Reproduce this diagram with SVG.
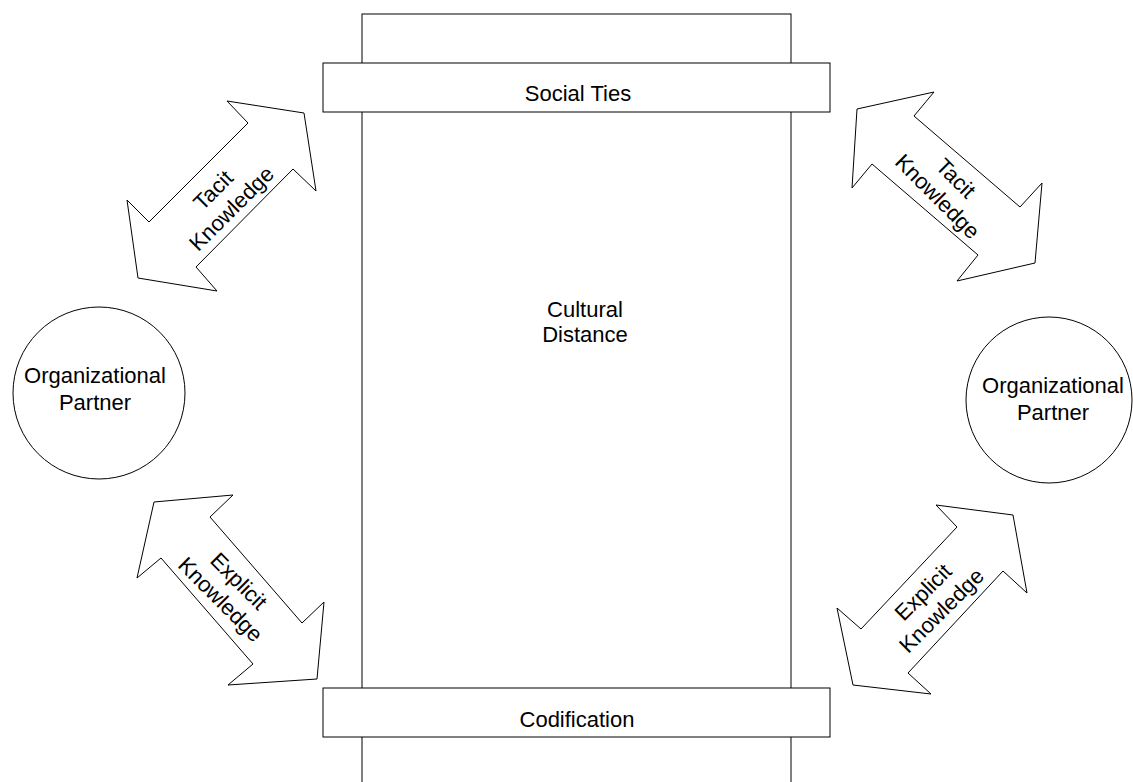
<svg xmlns="http://www.w3.org/2000/svg" width="1133" height="782" viewBox="0 0 1133 782">
<style>
.s{fill:#fff;stroke:#000;stroke-width:1}
.t{font-family:"Liberation Sans",Arial,sans-serif;font-size:22px;fill:#000;text-anchor:middle}
</style>
<rect width="1133" height="782" fill="#fff"/>
<g id="cultural-distance">
<rect class="s" x="362" y="14" width="429" height="780"/>
<text class="t" x="585" y="317">Cultural</text>
<text class="t" x="585" y="342">Distance</text>
</g>
<g id="social-ties">
<rect class="s" x="323" y="63" width="507" height="49"/>
<text class="t" x="578" y="101">Social Ties</text>
</g>
<g id="codification">
<rect class="s" x="323" y="688" width="507" height="49"/>
<text class="t" x="577" y="727">Codification</text>
</g>
<g id="partner-left">
<circle class="s" cx="99" cy="393" r="86"/>
<text class="t" x="95" y="383">Organizational</text>
<text class="t" x="95" y="410">Partner</text>
</g>
<g id="partner-right">
<circle class="s" cx="1049" cy="400" r="83"/>
<text class="t" x="1053" y="393">Organizational</text>
<text class="t" x="1053" y="420">Partner</text>
</g>
<g id="connectors">
<g id="tacit-left">
<polygon class="s" points="227,101 304,113 316,191 293,169 196,267 217,291 138,278 127,200 149,222 248,123"/>
<text class="t" transform="translate(222,199) rotate(-45)"><tspan x="0" y="-5">Tacit</tspan><tspan x="0" y="21">Knowledge</tspan></text>
</g>
<g id="tacit-right">
<polygon class="s" points="857,109 934,92 914,116 1020,207 1042,183 1035,263 957,281 978,255 872,164 852,188"/>
<text class="t" transform="translate(947,187) rotate(45)"><tspan x="0" y="-5">Tacit</tspan><tspan x="0" y="21">Knowledge</tspan></text>
</g>
<g id="explicit-left">
<polygon class="s" points="154,502 233,495 210,517 302,623 324,602 317,679 228,685 253,664 161,558 137,578"/>
<text class="t" transform="translate(230,590) rotate(45)"><tspan x="0" y="-5">Explicit</tspan><tspan x="0" y="21">Knowledge</tspan></text>
</g>
<g id="explicit-right">
<polygon class="s" points="936,505 1013,515 1027,593 1003,571 908,673 931,694 853,685 837,608 861,629 957,527"/>
<text class="t" transform="translate(932,601) rotate(-45)"><tspan x="0" y="-5">Explicit</tspan><tspan x="0" y="21">Knowledge</tspan></text>
</g>
</g>
</svg>
